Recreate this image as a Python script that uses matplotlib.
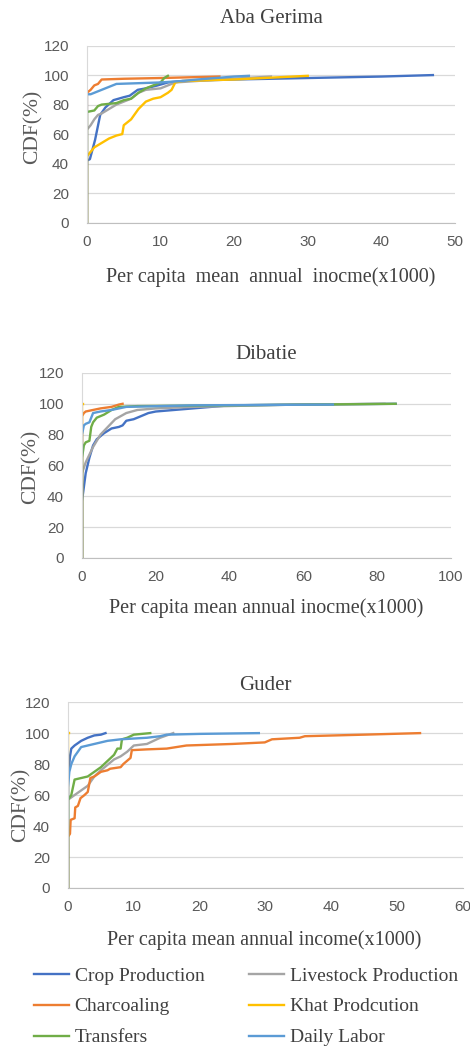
import matplotlib.pyplot as plt

# series names and colours (Excel default palette)
series_names = ['Crop Production', 'Livestock Production', 'Charcoaling',
                'Khat Prodcution', 'Transfers', 'Daily Labor']
series_colors = ['#4472C4', '#A5A5A5', '#ED7D31', '#FFC000', '#70AD47', '#5B9BD5']

# ---- Aba Gerima ----
aba_crop_x = [0, 0, 0.4, 1.1, 1.8, 2.5, 3.6, 5, 5.8, 6.9, 8, 9.6, 11, 13, 20, 30, 40, 47]
aba_crop_y = [0, 42, 43, 56, 73, 78, 83, 85, 86, 90, 91, 93, 95, 96, 97, 98, 99, 100]
aba_live_x = [0, 0, 0.5, 1, 1.5, 2, 3, 4, 5, 6, 7, 8, 10, 11, 12, 18, 25]
aba_live_y = [0, 63, 66, 70, 73, 74, 77, 80, 82, 84, 88, 90, 91, 93, 95, 97, 99]
aba_char_x = [0, 0, 0.5, 1, 1.5, 2, 5, 10, 18]
aba_char_y = [0, 88, 90, 93, 94, 97, 97.5, 98, 99]
aba_khat_x = [0, 0, 1, 2, 3, 4, 4.8, 5, 6, 7, 8, 9, 10, 11, 11.5, 12, 13, 20, 30]
aba_khat_y = [0, 45, 51, 54, 57, 59, 60, 66, 70, 77, 82, 84, 85, 88, 90, 95, 96, 97, 99.5]
aba_tran_x = [0, 0, 1, 1.5, 2, 4, 5, 6, 7, 8, 9, 10, 10.5, 11]
aba_tran_y = [0, 75, 76, 79, 80, 81, 83, 84, 88, 91, 93, 95, 98, 99.5]
aba_labr_x = [0, 0, 0.5, 1, 2, 3, 4, 10, 13, 15, 20, 22]
aba_labr_y = [0, 87, 87, 88, 90, 92, 94, 95, 96, 97, 99, 99.5]

# ---- Dibatie ----
dib_crop_x = [0, 0, 1, 2, 3, 4, 6, 8, 10, 11, 12, 14, 16, 18, 20, 25, 30, 35, 40, 60, 85]
dib_crop_y = [0, 37, 55, 65, 73, 77, 81, 84, 85, 86, 89, 90, 92, 94, 95, 96, 97, 98, 99, 99.5, 100]
dib_live_x = [0, 0, 1, 2, 3, 4, 5, 7, 9, 12, 15, 20, 30, 58, 82]
dib_live_y = [0, 55, 62, 67, 72, 76, 80, 85, 90, 94, 96, 97, 98, 99.5, 100]
dib_char_x = [0, 0, 0.5, 1, 3, 5, 8, 10, 11]
dib_char_y = [0, 92, 94, 95, 96, 97, 98, 99.5, 100]
dib_khat_x = [0, 0, 0.3]
dib_khat_y = [0, 100, 100]
dib_tran_x = [0, 0, 0.5, 1, 2, 2.5, 3, 4, 6, 8, 10, 15, 40, 85]
dib_tran_y = [0, 65, 73, 75, 76, 85, 88, 91, 93, 96, 98, 98.5, 99, 100]
dib_labr_x = [0, 0, 0.5, 1, 2, 3, 5, 8, 12, 30, 68]
dib_labr_y = [0, 80, 86, 87, 88, 94, 95, 96, 98, 99, 99.5]

# ---- Guder ----
gud_crop_x = [0, 0, 0.3, 0.5, 1, 2, 3, 4, 5, 5.7]
gud_crop_y = [0, 70, 85, 90, 92, 95, 97, 98.5, 99, 100]
gud_live_x = [0, 0, 1, 2, 3, 4, 5, 7, 8, 9, 10, 12, 13, 14, 16]
gud_live_y = [0, 57, 60, 63, 66, 72, 76, 83, 85, 88, 92, 93, 95, 97, 100]
gud_char_x = [0, 0, 0.3, 0.4, 1, 1.1, 1.5, 1.9, 2.5, 3, 3.4, 4, 5, 6, 6.4, 8, 8.4, 9.5,
              9.7, 12, 15, 18, 25, 29.9, 31, 35.2, 36, 45, 53.5]
gud_char_y = [0, 33, 35, 44, 45, 52, 53, 58, 60, 62, 71, 72, 75, 76, 77, 78, 80, 84,
              89, 89.5, 90, 92, 93, 94, 96, 97, 98, 99, 100]
gud_khat_x = [0, 0, 0.2]
gud_khat_y = [0, 100, 100]
gud_tran_x = [0, 0, 0.5, 1, 2, 3, 4, 5, 6, 7, 7.5, 8, 8.2, 9, 10, 12.5]
gud_tran_y = [0, 57, 60, 70, 71, 72, 75, 78, 82, 86, 90, 90, 96, 97, 99, 100]
gud_labr_x = [0, 0, 0.2, 0.5, 1, 1.5, 2, 4, 6, 8, 12, 14, 15, 20, 29]
gud_labr_y = [0, 65, 75, 80, 85, 88, 91, 93, 95, 96, 97, 98, 99, 99.5, 100]

aba = [(aba_crop_x, aba_crop_y), (aba_live_x, aba_live_y), (aba_char_x, aba_char_y),
       (aba_khat_x, aba_khat_y), (aba_tran_x, aba_tran_y), (aba_labr_x, aba_labr_y)]
dib = [(dib_crop_x, dib_crop_y), (dib_live_x, dib_live_y), (dib_char_x, dib_char_y),
       (dib_khat_x, dib_khat_y), (dib_tran_x, dib_tran_y), (dib_labr_x, dib_labr_y)]
gud = [(gud_crop_x, gud_crop_y), (gud_live_x, gud_live_y), (gud_char_x, gud_char_y),
       (gud_khat_x, gud_khat_y), (gud_tran_x, gud_tran_y), (gud_labr_x, gud_labr_y)]

serif = 'Liberation Serif'
sans = 'Liberation Sans'
tick_color = '#595959'
text_color = '#404040'

fig = plt.figure(figsize=(4.7, 10.5), dpi=100)

# title, data, xmax, xstep, xlabel, axes rect, title pad, ylabel coords, xlabel coords
panels = [
    ('Aba Gerima', aba, 50, 10, 'Per capita  mean  annual  inocme(x1000)',
     [0.185, 0.788, 0.783, 0.1686], 16.5, (-0.12, 0.54), (0.50, -0.25)),
    ('Dibatie', dib, 100, 20, 'Per capita mean annual inocme(x1000)',
     [0.1745, 0.4686, 0.785, 0.1762], 10, (-0.111, 0.49), (0.4986, -0.217)),
    ('Guder', gud, 60, 10, 'Per capita mean annual income(x1000)',
     [0.1447, 0.1543, 0.840, 0.177], 8.5, (-0.094, 0.446), (0.496, -0.226)),
]

lines = []
for title, data, xmax, xstep, xlab, pos, tpad, ylc, xlc in panels:
    ax = fig.add_axes(pos)
    for (xs, ys), name, col in zip(data, series_names, series_colors):
        ln, = ax.plot(xs, ys, color=col, lw=1.7, label=name, solid_joinstyle='round')
        if title == 'Aba Gerima':
            lines.append(ln)
    ax.set_xlim(0, xmax)
    ax.set_ylim(0, 120)
    ax.set_xticks(range(0, xmax + 1, xstep))
    ax.set_yticks(range(0, 121, 20))
    ax.yaxis.grid(True, color='#D9D9D9', lw=0.9)
    ax.set_axisbelow(True)
    for s in ['top', 'right']:
        ax.spines[s].set_visible(False)
    ax.spines['left'].set_color('#D9D9D9')
    ax.spines['bottom'].set_color('#BFBFBF')
    ax.tick_params(axis='y', length=0, labelsize=11, labelcolor=tick_color, pad=13)
    ax.tick_params(axis='x', length=0, labelsize=11, labelcolor=tick_color, pad=9)
    for lbl in ax.get_xticklabels() + ax.get_yticklabels():
        lbl.set_fontfamily(sans)
    ax.set_title(title, fontfamily=serif, fontsize=15, color=text_color, pad=tpad)
    ax.set_ylabel('CDF(%)', fontfamily=serif, fontsize=15.5, color=tick_color)
    ax.yaxis.set_label_coords(*ylc)
    ax.set_xlabel(xlab, fontfamily=serif, fontsize=14.5, color=text_color)
    ax.xaxis.set_label_coords(*xlc)

# legend filled row by row like the reference (matplotlib fills columns)
order = [0, 2, 4, 1, 3, 5]
fig.legend([lines[i] for i in order], [series_names[i] for i in order],
           loc='upper left', bbox_to_anchor=(0.072, 0.079), ncol=2,
           frameon=False, prop={'family': serif, 'size': 14}, handlelength=1.8,
           handletextpad=0.3, columnspacing=2.3, labelspacing=0.68,
           borderpad=0, borderaxespad=0, labelcolor=text_color)

fig.savefig('out.png', dpi=100)
